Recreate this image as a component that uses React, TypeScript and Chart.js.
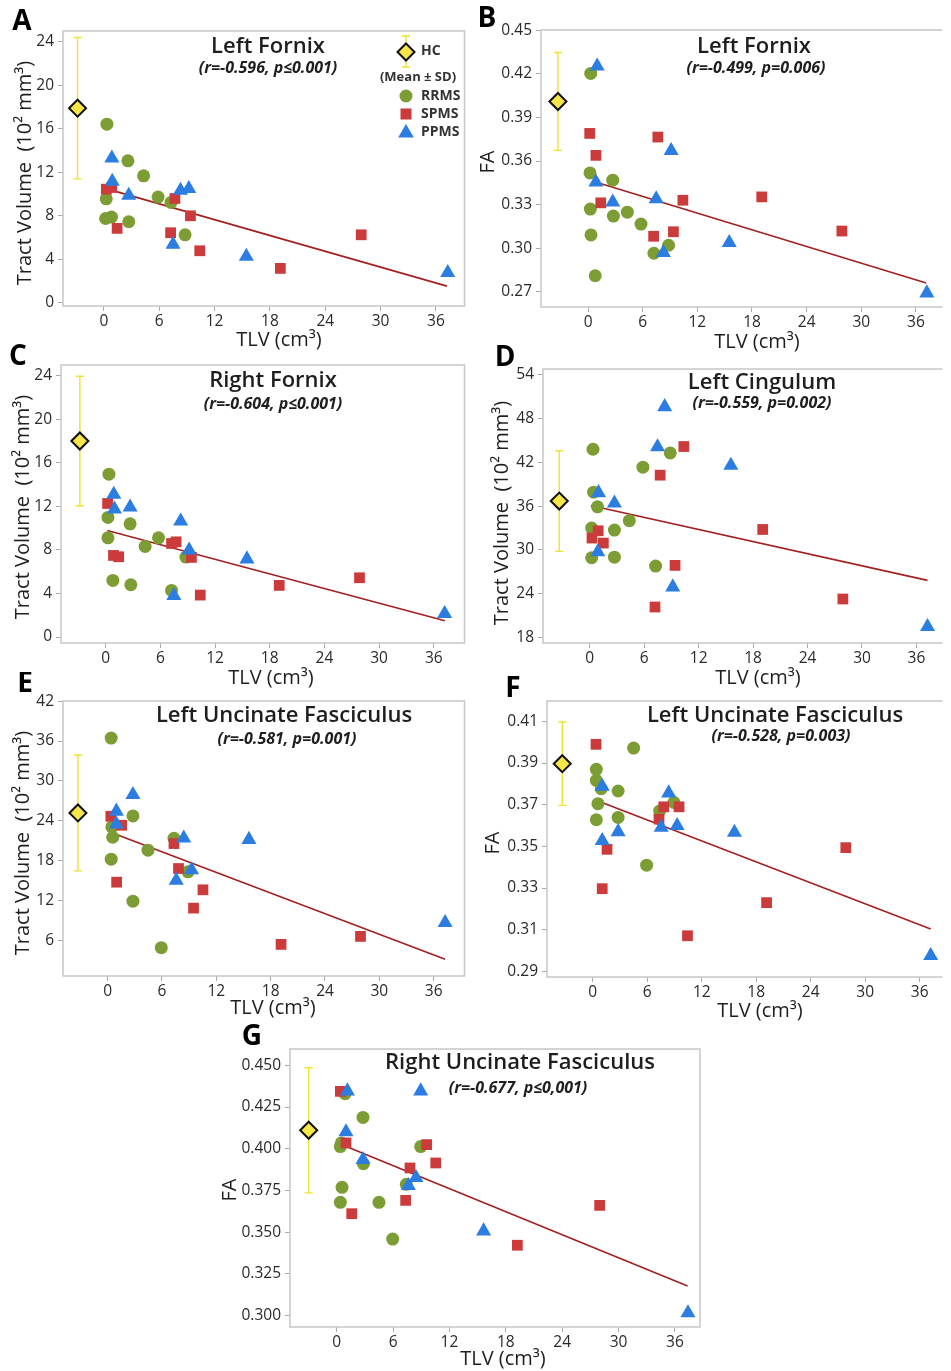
import React, { useEffect, useRef } from "react";
import { Chart, registerables } from "chart.js";
Chart.register(...registerables);

// ---------------- DATA ----------------
const TLV_TICKS = [0, 6, 12, 18, 24, 30, 36];

// Panel A – Left Fornix, tract volume
const A_RRMS = [[0.32, 16.43], [2.6, 13.06], [4.3, 11.68], [5.87, 9.72], [7.27, 9.23], [8.8, 6.25], [0.25, 9.56], [0.18, 7.75], [0.82, 7.88], [2.69, 7.45]];
const A_SPMS = [[0.26, 10.45], [0.85, 10.6], [1.43, 6.84], [7.7, 9.59], [9.38, 8.0], [7.23, 6.44], [10.39, 4.78], [19.13, 3.16], [27.9, 6.25]];
const A_PPMS = [[0.86, 13.3], [0.9, 11.16], [2.69, 9.87], [8.3, 10.33], [9.2, 10.49], [7.49, 5.37], [15.44, 4.26], [37.28, 2.76]];
const A_HC = [-2.86, 17.9, 6.5]; // [TLV position, mean, SD]
const A_FIT = [[0.79, 10.36], [37.2, 1.53]];
const A_YTICKS = [0, 4, 8, 12, 16, 20, 24];

// Panel B – Left Fornix, FA
const B_RRMS = [[0.29, 0.4203], [0.21, 0.3518], [2.71, 0.3468], [0.25, 0.3269], [2.78, 0.3221], [4.31, 0.3248], [5.81, 0.3166], [0.32, 0.3091], [7.23, 0.2965], [8.84, 0.302], [0.78, 0.281]];
const B_SPMS = [[0.18, 0.379], [0.86, 0.3639], [1.39, 0.3312], [7.66, 0.3765], [10.41, 0.333], [9.37, 0.3113], [7.2, 0.3082], [19.07, 0.3353], [27.87, 0.3118]];
const B_PPMS = [[1.0, 0.4253], [0.86, 0.3454], [2.71, 0.3316], [7.48, 0.3339], [9.12, 0.3671], [8.27, 0.2969], [15.5, 0.3038], [37.2, 0.2691]];
const B_HC = [-3.31, 0.401, 0.0337];
const B_FIT = [[1.35, 0.3445], [37.13, 0.276]];
const B_YTICKS = [0.27, 0.3, 0.33, 0.36, 0.39, 0.42, 0.45];

// Panel C – Right Fornix, tract volume
const C_RRMS = [[0.36, 14.95], [0.25, 10.98], [0.25, 9.11], [2.68, 10.39], [4.33, 8.32], [5.8, 9.11], [0.79, 5.2], [2.76, 4.8], [7.23, 4.28], [8.8, 7.34]];
const C_SPMS = [[0.21, 12.26], [0.86, 7.49], [1.43, 7.37], [7.23, 8.59], [7.73, 8.74], [9.41, 7.31], [10.38, 3.85], [19.04, 4.74], [27.85, 5.44]];
const C_PPMS = [[0.89, 13.09], [0.97, 11.74], [2.68, 11.92], [8.23, 10.64], [9.16, 7.98], [7.48, 3.79], [15.5, 7.16], [37.19, 2.14]];
const C_HC = [-2.83, 18.0, 5.95];
const C_FIT = [[0.18, 9.78], [37.22, 1.5]];
const C_YTICKS = [0, 4, 8, 12, 16, 20, 24];

// Panel D – Left Cingulum, tract volume
const D_RRMS = [[0.36, 43.81], [0.43, 37.92], [0.86, 35.91], [0.21, 32.99], [0.21, 28.92], [2.72, 32.71], [2.72, 29.0], [4.36, 34.0], [5.86, 41.35], [8.87, 43.31], [7.26, 27.78]];
const D_SPMS = [[0.25, 31.62], [0.93, 32.62], [1.5, 30.93], [7.76, 40.25], [10.37, 44.18], [9.4, 27.87], [7.19, 22.16], [19.06, 32.8], [27.89, 23.26]];
const D_PPMS = [[0.97, 37.83], [0.89, 29.73], [2.72, 36.42], [7.47, 44.13], [8.26, 49.63], [9.15, 24.9], [15.55, 41.58], [37.22, 19.47]];
const D_HC = [-3.36, 36.7, 6.9];
const D_FIT = [[0.11, 36.09], [37.22, 25.81]];
const D_YTICKS = [18, 24, 30, 36, 42, 48, 54];

// Panel E – Left Uncinate Fasciculus, tract volume
const E_RRMS = [[0.4, 36.45], [2.8, 24.75], [0.47, 23.1], [0.57, 21.55], [0.4, 18.25], [4.46, 19.6], [7.33, 21.4], [8.88, 16.35], [2.8, 11.95], [5.93, 4.95]];
const E_SPMS = [[0.36, 24.7], [1.55, 23.35], [1.0, 14.8], [7.33, 20.6], [7.83, 16.85], [9.49, 10.9], [10.53, 13.65], [19.15, 5.45], [27.92, 6.65]];
const E_PPMS = [[0.97, 25.45], [0.97, 23.5], [2.8, 27.95], [8.41, 21.4], [9.27, 16.65], [7.58, 15.05], [15.6, 21.2], [37.26, 8.7]];
const E_HC = [-3.27, 25.2, 8.7];
const E_FIT = [[0.97, 21.95], [37.26, 3.2]];
const E_YTICKS = [6, 12, 18, 24, 30, 36, 42];

// Panel F – Left Uncinate Fasciculus, FA
const F_RRMS = [[4.5, 0.3972], [0.39, 0.387], [0.39, 0.3817], [0.93, 0.3777], [0.57, 0.3705], [0.39, 0.3628], [2.79, 0.3766], [2.79, 0.3639], [5.93, 0.341], [7.36, 0.367], [8.93, 0.3711]];
const F_SPMS = [[0.36, 0.399], [1.57, 0.3486], [1.04, 0.3297], [7.29, 0.3631], [7.82, 0.369], [9.5, 0.369], [10.43, 0.3071], [19.14, 0.323], [27.86, 0.3494]];
const F_PPMS = [[1.04, 0.3788], [1.04, 0.3527], [2.79, 0.357], [8.36, 0.3756], [7.54, 0.3591], [9.29, 0.3599], [15.6, 0.3567], [37.21, 0.2975]];
const F_HC = [-3.36, 0.3897, 0.02];
const F_FIT = [[1.07, 0.371], [37.21, 0.3103]];
const F_YTICKS = [0.29, 0.31, 0.33, 0.35, 0.37, 0.39, 0.41];

// Panel G – Right Uncinate Fasciculus, FA
const G_RRMS = [[0.89, 0.433], [2.8, 0.4188], [0.39, 0.4013], [0.5, 0.4035], [2.84, 0.3911], [0.57, 0.3769], [0.39, 0.3679], [4.5, 0.3679], [5.96, 0.3459], [7.41, 0.3787], [8.94, 0.4013]];
const G_SPMS = [[0.39, 0.4344], [0.99, 0.4035], [1.6, 0.3611], [7.34, 0.3691], [7.8, 0.3885], [9.58, 0.4025], [10.54, 0.3915], [19.23, 0.3422], [27.99, 0.3661]];
const G_PPMS = [[1.14, 0.4346], [0.99, 0.4101], [2.8, 0.3935], [7.63, 0.3779], [8.44, 0.3827], [8.94, 0.4346], [15.64, 0.3507], [37.39, 0.3016]];
const G_HC = [-2.98, 0.4111, 0.0375];
const G_FIT = [[0.89, 0.4017], [37.35, 0.3178]];
const G_YTICKS = [0.3, 0.325, 0.35, 0.375, 0.4, 0.425, 0.45];

const LEGEND_LABELS = ["HC", "(Mean ± SD)", "RRMS", "SPMS", "PPMS"];

// ---------------- STYLE / LAYOUT ----------------
const FONT = "'Open Sans', 'DejaVu Sans', sans-serif";
const GREEN = "#7c9d33";
const RED = "#cc3b3b";
const BLUE = "#2c7de2";
const YELLOW = "#f7e64a";
const LINE = "#a32020";
const ERR = "#f0e22e";
const FRAME = "#c6c6c6";
const TEXT = "#1e1e1e";
const VOL = "Tract Volume  (10² mm³)";

type P2 = number[];
interface Panel {
  key: string;
  letter: string;
  title: string;
  subtitle: string;
  yTitle: string;
  rrms: P2[];
  spms: P2[];
  ppms: P2[];
  hc: number[];
  fit: P2[];
  yTicks: number[];
  yDec: number;
  xr: number[];
  yr: number[];
  box: number[]; // canvas [x, y, w, h] on the page
  area: number[]; // plot area [l, t, r, b] on the page
  letterPos: number[];
  titlePos: number[];
  subPos: number[];
  xTitlePos: number[];
  yTitlePos: number[];
  openRight?: boolean;
  legend?: boolean;
}

const PANELS: Panel[] = [
  {
    key: "A", letter: "A", title: "Left Fornix", subtitle: "(r=-0.596, p≤0.001)", yTitle: VOL,
    rrms: A_RRMS, spms: A_SPMS, ppms: A_PPMS, hc: A_HC, fit: A_FIT, yTicks: A_YTICKS, yDec: 0,
    xr: [-4.44, 39.1], yr: [-0.3, 25.0],
    box: [0, 0, 475, 352], area: [63, 31, 468, 306],
    letterPos: [22, 22], titlePos: [268, 47], subPos: [268, 68], xTitlePos: [279, 340], yTitlePos: [25, 173],
    legend: true,
  },
  {
    key: "B", letter: "B", title: "Left Fornix", subtitle: "(r=-0.499, p=0.006)", yTitle: "FA",
    rrms: B_RRMS, spms: B_SPMS, ppms: B_PPMS, hc: B_HC, fit: B_FIT, yTicks: B_YTICKS, yDec: 2,
    xr: [-5.17, 38.7], yr: [0.2595, 0.4502],
    box: [475, 0, 476, 352], area: [541, 30, 951, 307],
    letterPos: [487, 19], titlePos: [754, 47], subPos: [756, 68], xTitlePos: [757, 342], yTitlePos: [488, 162],
    openRight: true,
  },
  {
    key: "C", letter: "C", title: "Right Fornix", subtitle: "(r=-0.604, p≤0.001)", yTitle: VOL,
    rrms: C_RRMS, spms: C_SPMS, ppms: C_PPMS, hc: C_HC, fit: C_FIT, yTicks: C_YTICKS, yDec: 0,
    xr: [-4.9, 39.37], yr: [-0.55, 24.98],
    box: [0, 340, 475, 350], area: [61, 365, 473, 643],
    letterPos: [18, 357], titlePos: [273, 381], subPos: [273, 404], xTitlePos: [271, 678], yTitlePos: [23, 507],
  },
  {
    key: "D", letter: "D", title: "Left Cingulum", subtitle: "(r=-0.559, p=0.002)", yTitle: VOL,
    rrms: D_RRMS, spms: D_SPMS, ppms: D_PPMS, hc: D_HC, fit: D_FIT, yTicks: D_YTICKS, yDec: 0,
    xr: [-5.15, 38.65], yr: [17.22, 54.82],
    box: [475, 340, 476, 350], area: [543, 369, 951, 643],
    letterPos: [505, 358], titlePos: [762, 383], subPos: [762, 403], xTitlePos: [758, 678], yTitlePos: [502, 513],
    openRight: true,
  },
  {
    key: "E", letter: "E", title: "Left Uncinate Fasciculus", subtitle: "(r=-0.581, p=0.001)", yTitle: VOL,
    rrms: E_RRMS, spms: E_SPMS, ppms: E_PPMS, hc: E_HC, fit: E_FIT, yTicks: E_YTICKS, yDec: 0,
    xr: [-4.92, 39.4], yr: [0.7, 42.02],
    box: [0, 672, 475, 353], area: [63, 701, 474, 976],
    letterPos: [25, 684], titlePos: [284, 716], subPos: [287, 739], xTitlePos: [273, 1008], yTitlePos: [23, 843],
  },
  {
    key: "F", letter: "F", title: "Left Uncinate Fasciculus", subtitle: "(r=-0.528, p=0.003)", yTitle: "FA",
    rrms: F_RRMS, spms: F_SPMS, ppms: F_PPMS, hc: F_HC, fit: F_FIT, yTicks: F_YTICKS, yDec: 2,
    xr: [-5.04, 38.29], yr: [0.2873, 0.4198],
    box: [475, 675, 476, 355], area: [547, 701, 951, 977],
    letterPos: [513, 689], titlePos: [775, 716], subPos: [781, 736], xTitlePos: [760, 1011], yTitlePos: [493, 843],
    openRight: true,
  },
  {
    key: "G", letter: "G", title: "Right Uncinate Fasciculus", subtitle: "(r=-0.677, p≤0,001)", yTitle: "FA",
    rrms: G_RRMS, spms: G_SPMS, ppms: G_PPMS, hc: G_HC, fit: G_FIT, yTicks: G_YTICKS, yDec: 3,
    xr: [-4.97, 38.67], yr: [0.2932, 0.4598],
    box: [200, 1015, 520, 356], area: [290, 1049, 700, 1327],
    letterPos: [252, 1037], titlePos: [520, 1063], subPos: [518, 1088], xTitlePos: [503, 1359], yTitlePos: [230, 1190],
  },
];

const toXY = (a: P2[]) => a.map(([x, y]) => ({ x, y }));

function drawDiamond(ctx: CanvasRenderingContext2D, x: number, y: number, r: number) {
  ctx.beginPath();
  ctx.moveTo(x, y - r);
  ctx.lineTo(x + r, y);
  ctx.lineTo(x, y + r);
  ctx.lineTo(x - r, y);
  ctx.closePath();
  ctx.fillStyle = YELLOW;
  ctx.fill();
  ctx.lineWidth = 2;
  ctx.strokeStyle = "#111";
  ctx.stroke();
}

function drawErr(ctx: CanvasRenderingContext2D, x: number, top: number, bot: number) {
  ctx.strokeStyle = ERR;
  ctx.lineWidth = 1.4;
  ctx.beginPath();
  ctx.moveTo(x, top);
  ctx.lineTo(x, bot);
  ctx.moveTo(x - 4, top);
  ctx.lineTo(x + 4, top);
  ctx.moveTo(x - 4, bot);
  ctx.lineTo(x + 4, bot);
  ctx.stroke();
}

function makeChart(canvas: HTMLCanvasElement, p: Panel) {
  const [cx, cy, cw, ch] = p.box;
  const [l, t, r, b] = p.area;
  const X = (v: number) => v - cx;
  const Y = (v: number) => v - cy;

  const deco = {
    id: "deco" + p.key,
    beforeDatasetsDraw(chart: any) {
      const { ctx, chartArea: ca, scales } = chart;
      ctx.save();
      // frame
      ctx.strokeStyle = FRAME;
      ctx.lineWidth = 1.5;
      ctx.beginPath();
      if (p.openRight) {
        ctx.moveTo(ca.right + 2, ca.top);
        ctx.lineTo(ca.left, ca.top);
        ctx.lineTo(ca.left, ca.bottom);
        ctx.lineTo(ca.right + 2, ca.bottom);
      } else {
        ctx.rect(ca.left, ca.top, ca.right - ca.left, ca.bottom - ca.top);
      }
      ctx.stroke();
      // HC mean ± SD bar
      const px = scales.x.getPixelForValue(p.hc[0]);
      const top = scales.y.getPixelForValue(p.hc[1] + p.hc[2]);
      const bot = scales.y.getPixelForValue(p.hc[1] - p.hc[2]);
      drawErr(ctx, px, top, bot);
      ctx.restore();
    },
    afterDraw(chart: any) {
      const ctx: CanvasRenderingContext2D = chart.ctx;
      ctx.save();
      ctx.textAlign = "center";
      ctx.textBaseline = "middle";
      ctx.fillStyle = "#000";
      ctx.font = `bold 28px ${FONT}`;
      ctx.fillText(p.letter, X(p.letterPos[0]), Y(p.letterPos[1]));
      ctx.fillStyle = TEXT;
      ctx.font = `600 22px ${FONT}`;
      ctx.fillText(p.title, X(p.titlePos[0]), Y(p.titlePos[1]));
      ctx.font = `italic bold 16px ${FONT}`;
      ctx.fillText(p.subtitle, X(p.subPos[0]), Y(p.subPos[1]));
      ctx.font = `500 20px ${FONT}`;
      ctx.fillText("TLV (cm³)", X(p.xTitlePos[0]), Y(p.xTitlePos[1]));
      ctx.save();
      ctx.translate(X(p.yTitlePos[0]), Y(p.yTitlePos[1]));
      ctx.rotate(-Math.PI / 2);
      ctx.fillText(p.yTitle, 0, 0);
      ctx.restore();

      if (p.legend) {
        const lx = X(406);
        drawErr(ctx, lx, Y(36), Y(67));
        drawDiamond(ctx, lx, Y(52), 8.5);
        ctx.fillStyle = "#333";
        ctx.textAlign = "left";
        ctx.font = `bold 14px ${FONT}`;
        ctx.fillText(LEGEND_LABELS[0], X(421), Y(51));
        ctx.textAlign = "center";
        ctx.font = `bold 13px ${FONT}`;
        ctx.fillText(LEGEND_LABELS[1], X(418), Y(77));
        ctx.textAlign = "left";
        ctx.font = `bold 14px ${FONT}`;
        // RRMS
        ctx.fillStyle = GREEN;
        ctx.beginPath();
        ctx.arc(lx, Y(96), 6.5, 0, Math.PI * 2);
        ctx.fill();
        // SPMS
        ctx.fillStyle = RED;
        ctx.fillRect(lx - 5.5, Y(114) - 5.5, 11, 11);
        // PPMS
        ctx.fillStyle = BLUE;
        ctx.beginPath();
        const ty = Y(133);
        ctx.moveTo(lx, ty - 9);
        ctx.lineTo(lx + 7.8, ty + 4.5);
        ctx.lineTo(lx - 7.8, ty + 4.5);
        ctx.closePath();
        ctx.fill();
        ctx.fillStyle = "#333";
        ctx.fillText(LEGEND_LABELS[2], X(421), Y(96));
        ctx.fillText(LEGEND_LABELS[3], X(421), Y(114));
        ctx.fillText(LEGEND_LABELS[4], X(421), Y(132));
      }
      ctx.restore();
    },
  };

  const tickFont = { family: FONT, size: 15.5, weight: "500" };

  return new Chart(canvas, {
    type: "scatter",
    data: {
      datasets: [
        { data: toXY(p.ppms), pointStyle: "triangle", pointRadius: 8.7, backgroundColor: BLUE, borderWidth: 0, clip: false } as any,
        { data: toXY(p.spms), pointStyle: "rect", pointRadius: 7.6, backgroundColor: RED, borderWidth: 0, clip: false } as any,
        { data: toXY(p.rrms), pointStyle: "circle", pointRadius: 6.5, backgroundColor: GREEN, borderWidth: 0, clip: false } as any,
        { data: toXY(p.fit), showLine: true, pointRadius: 0, borderColor: LINE, borderWidth: 1.6, fill: false } as any,
        { data: [{ x: p.hc[0], y: p.hc[1] }], pointStyle: "rectRot", pointRadius: 8.5, backgroundColor: YELLOW, borderColor: "#111", borderWidth: 2, clip: false } as any,
      ],
    },
    options: {
      animation: false,
      responsive: false,
      events: [],
      layout: { padding: { left: 0, top: t - cy, right: cx + cw - r, bottom: 0 } },
      plugins: { legend: { display: false }, tooltip: { enabled: false }, title: { display: false } },
      scales: {
        x: {
          type: "linear",
          min: p.xr[0],
          max: p.xr[1],
          afterBuildTicks: (s: any) => {
            s.ticks = TLV_TICKS.map((v) => ({ value: v }));
          },
          afterFit: (s: any) => {
            s.height = cy + ch - b;
          },
          ticks: { font: tickFont, color: "#2a2a2a", padding: 1, maxRotation: 0, autoSkip: false, callback: (v: any) => String(v) },
          grid: { drawOnChartArea: false, drawTicks: true, tickLength: 5, color: "#aaa" },
          border: { display: false },
        },
        y: {
          type: "linear",
          min: p.yr[0],
          max: p.yr[1],
          afterBuildTicks: (s: any) => {
            s.ticks = p.yTicks.map((v) => ({ value: v }));
          },
          afterFit: (s: any) => {
            s.width = l - cx;
          },
          ticks: { font: tickFont, color: "#2a2a2a", padding: 4, autoSkip: false, callback: (v: any) => Number(v).toFixed(p.yDec) },
          grid: { drawOnChartArea: false, drawTicks: true, tickLength: 5, color: "#aaa" },
          border: { display: false },
        },
      },
    } as any,
    plugins: [deco],
  });
}

function PanelChart({ p }: { p: Panel }) {
  const ref = useRef<HTMLCanvasElement | null>(null);
  useEffect(() => {
    if (!ref.current) return;
    const c = makeChart(ref.current, p);
    return () => c.destroy();
  }, [p]);
  const [cx, cy, cw, ch] = p.box;
  return (
    <canvas
      ref={ref}
      width={cw}
      height={ch}
      style={{ position: "absolute", left: cx, top: cy, width: cw, height: ch }}
    />
  );
}

export default function App() {
  return (
    <div
      style={{
        position: "absolute",
        left: 0,
        top: 0,
        width: 951,
        height: 1371,
        overflow: "hidden",
        background: "#fff",
      }}
    >
      {PANELS.map((p) => (
        <PanelChart key={p.key} p={p} />
      ))}
    </div>
  );
}
